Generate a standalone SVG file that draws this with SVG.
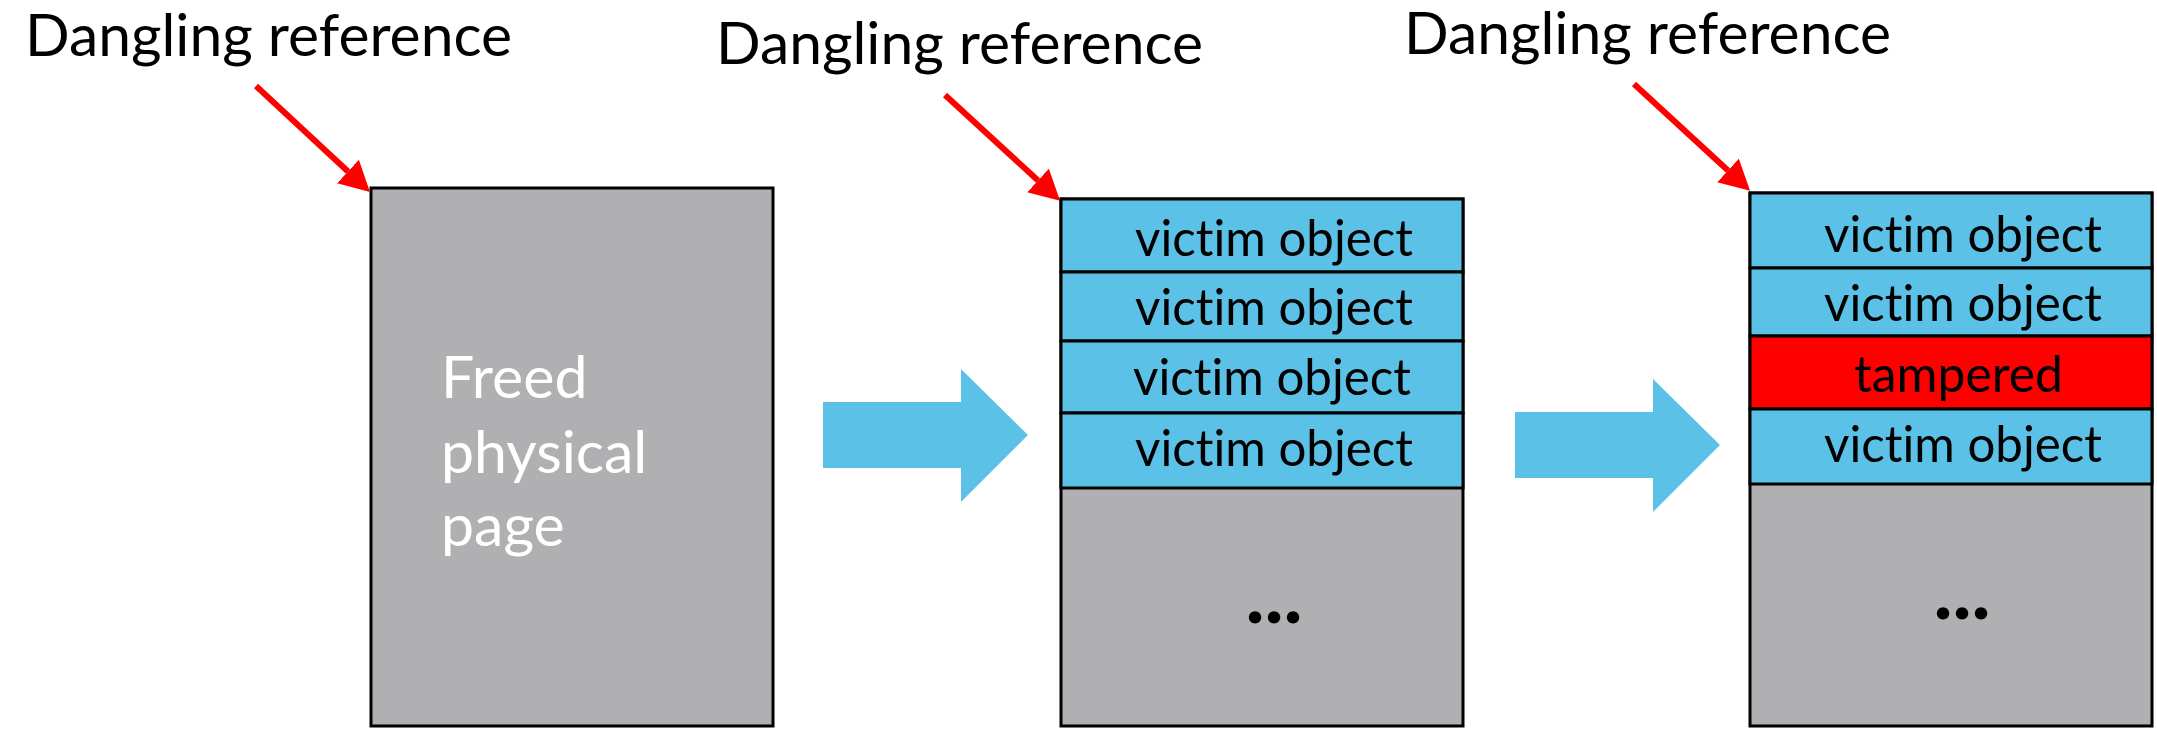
<svg xmlns="http://www.w3.org/2000/svg" width="2157" height="729" viewBox="0 0 2157 729">
  <style>
    text { font-family: Lato, "Liberation Sans", sans-serif; font-variant-ligatures: none; }
    .lbl { font-size: 59px; fill: #000; }
    .obj { font-size: 51px; fill: #000; }
    .page { font-size: 59px; fill: #fff; }
    .dots { font-size: 76px; font-weight: 900; fill: #000; }
    .free { fill: #b0afb2; stroke: #000; stroke-width: 3; }
    .slot { fill: #5bc1e6; stroke: #000; stroke-width: 3; }
    .bad { fill: #ff0000; stroke: #000; stroke-width: 3; }
    .ref { stroke: #ff0000; stroke-width: 6; fill: none; marker-end: url(#refHead); }
    .step { fill: #5bc1e6; }
  </style>
  <defs>
    <marker id="refHead" markerUnits="userSpaceOnUse" viewBox="0 0 30 32" markerWidth="30" markerHeight="32" refX="0" refY="16" orient="auto">
      <path d="M0,0 L30,16 L0,32 Z" fill="#ff0000"/>
    </marker>
  </defs>

  <!-- labels -->
  <g id="label-1"><text class="lbl" x="25" y="56" textLength="487" lengthAdjust="spacingAndGlyphs">Dangling reference</text></g>
  <g id="label-2"><text class="lbl" x="716" y="64" textLength="487" lengthAdjust="spacingAndGlyphs">Dangling reference</text></g>
  <g id="label-3"><text class="lbl" x="1404" y="54" textLength="487" lengthAdjust="spacingAndGlyphs">Dangling reference</text></g>

  <!-- stage 1: freed page -->
  <g id="page-freed">
    <rect class="free" x="371" y="188" width="402" height="538"/>
    <text class="page" x="441" y="398">Freed</text>
    <text class="page" x="441" y="473">physical</text>
    <text class="page" x="441" y="546">page</text>
  </g>

  <!-- stage 2: page reused by victim objects -->
  <g id="page-sprayed">
    <rect class="free" x="1061" y="199" width="402" height="527"/>
    <rect class="slot" x="1061" y="199" width="402" height="73"/>
    <rect class="slot" x="1061" y="272" width="402" height="69"/>
    <rect class="slot" x="1061" y="341" width="402" height="72"/>
    <rect class="slot" x="1061" y="413" width="402" height="75"/>
    <text class="obj" x="1135" y="256" textLength="278" lengthAdjust="spacingAndGlyphs">victim object</text>
    <text class="obj" x="1135" y="325" textLength="278" lengthAdjust="spacingAndGlyphs">victim object</text>
    <text class="obj" x="1133" y="395" textLength="278" lengthAdjust="spacingAndGlyphs">victim object</text>
    <text class="obj" x="1135" y="466" textLength="278" lengthAdjust="spacingAndGlyphs">victim object</text>
    <text class="dots" x="1246" y="623" textLength="56" lengthAdjust="spacing">...</text>
  </g>

  <!-- stage 3: one object overwritten through the dangling reference -->
  <g id="page-tampered">
    <rect class="free" x="1750" y="193" width="402" height="533"/>
    <rect class="slot" x="1750" y="193" width="402" height="75"/>
    <rect class="slot" x="1750" y="268" width="402" height="68"/>
    <rect class="bad" x="1750" y="336" width="402" height="73"/>
    <rect class="slot" x="1750" y="409" width="402" height="75"/>
    <text class="obj" x="1824" y="252" textLength="278" lengthAdjust="spacingAndGlyphs">victim object</text>
    <text class="obj" x="1824" y="321" textLength="278" lengthAdjust="spacingAndGlyphs">victim object</text>
    <text class="obj" x="1854" y="392" textLength="209" lengthAdjust="spacingAndGlyphs">tampered</text>
    <text class="obj" x="1824" y="462" textLength="278" lengthAdjust="spacingAndGlyphs">victim object</text>
    <text class="dots" x="1934" y="619" textLength="56" lengthAdjust="spacing">...</text>
  </g>

  <!-- connectors -->
  <g id="connectors">
    <line class="ref" x1="256" y1="86" x2="348" y2="171.5"/>
    <line class="ref" x1="945" y1="95" x2="1038" y2="180.5"/>
    <line class="ref" x1="1634" y1="84" x2="1728" y2="170.5"/>
    <path class="step" d="M823,402 H961 V369 L1028,435 L961,502 V468 H823 Z"/>
    <path class="step" d="M1515,412 H1653 V379 L1720,445 L1653,512 V478 H1515 Z"/>
  </g>
</svg>
